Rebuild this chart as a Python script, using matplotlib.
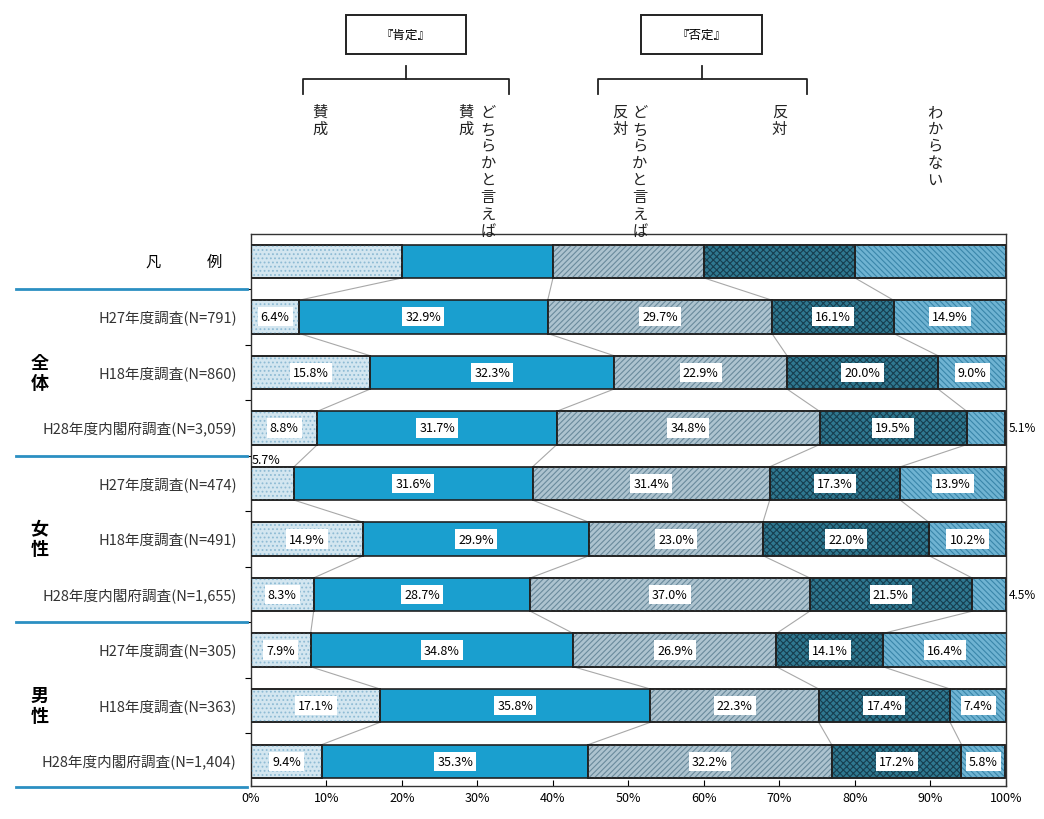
"""
Stacked 100% bar chart: attitudes by survey and gender.
"""

import matplotlib.pyplot as plt
import numpy as np
from matplotlib.patches import Rectangle
from matplotlib.transforms import blended_transform_factory

plt.rcParams["font.family"] = ["Noto Sans CJK JP", "DejaVu Sans"]
plt.rcParams["hatch.linewidth"] = 0.8

row_labels = [
    "H27年度調査(N=791)",
    "H18年度調査(N=860)",
    "H28年度内閣府調査(N=3,059)",
    "H27年度調査(N=474)",
    "H18年度調査(N=491)",
    "H28年度内閣府調査(N=1,655)",
    "H27年度調査(N=305)",
    "H18年度調査(N=363)",
    "H28年度内閣府調査(N=1,404)",
]
group_labels = ["全体", "女性", "男性"]

agree = [6.4, 15.8, 8.8, 5.7, 14.9, 8.3, 7.9, 17.1, 9.4]
rather_agree = [32.9, 32.3, 31.7, 31.6, 29.9, 28.7, 34.8, 35.8, 35.3]
rather_oppose = [29.7, 22.9, 34.8, 31.4, 23.0, 37.0, 26.9, 22.3, 32.2]
oppose = [16.1, 20.0, 19.5, 17.3, 22.0, 21.5, 14.1, 17.4, 17.2]
unknown = [14.9, 9.0, 5.1, 13.9, 10.2, 4.5, 16.4, 7.4, 5.8]

legend_values = [20, 20, 20, 20, 20]

# label placement for tiny segments: (row, segment) -> where
outside_right = {(2, 4), (5, 4)}
outside_above = {(3, 0)}

face_colors = ["#d3e6f0", "#1a9fcf", "#adc3cf", "#2f7890", "#6fb3d2"]
hatch_colors = ["#8ebbd4", None, "#6a8a9c", "#173f50", "#3a86aa"]
hatches = ["....", None, "//////", "xxxxx", "\\\\\\\\\\\\"]

series = np.array([agree, rather_agree, rather_oppose, oppose, unknown]).T
data = np.vstack([legend_values, series])

fig = plt.figure(figsize=(10.44, 8.2), dpi=100)
ax = fig.add_axes([0.2404, 0.040, 0.7232, 0.674])

bar_h = 0.6
ypos = np.arange(data.shape[0])
lefts = np.zeros(data.shape[0])

for j in range(data.shape[1]):
    widths = data[:, j]
    ax.barh(ypos, widths, left=lefts, height=bar_h, color=face_colors[j],
            edgecolor="#222222", linewidth=1.2, zorder=2)
    if hatches[j]:
        ax.barh(ypos, widths, left=lefts, height=bar_h, color="none",
                edgecolor=hatch_colors[j], hatch=hatches[j], linewidth=0,
                zorder=3)
        ax.barh(ypos, widths, left=lefts, height=bar_h, color="none",
                edgecolor="#222222", linewidth=1.2, zorder=4)
    for i in range(1, data.shape[0]):
        v = widths[i]
        r = i - 1
        txt = f"{v:.1f}%"
        if (r, j) in outside_right:
            ax.text(100.4, ypos[i], txt, ha="left", va="center", fontsize=8.5,
                    clip_on=False)
        elif (r, j) in outside_above:
            ax.text(lefts[i] + 0.1, ypos[i] - bar_h / 2 - 0.02, txt,
                    ha="left", va="bottom", fontsize=9)
        else:
            ax.text(lefts[i] + v / 2, ypos[i], txt, ha="center",
                    va="center", fontsize=9, zorder=5,
                    bbox=dict(boxstyle="square,pad=0.25", fc="white",
                              ec="none"))
    lefts = lefts + widths

# connector lines between consecutive bars
cum = np.cumsum(data, axis=1)
for i in range(data.shape[0] - 1):
    for j in range(4):
        ax.plot([cum[i, j], cum[i + 1, j]],
                [ypos[i] + bar_h / 2, ypos[i + 1] - bar_h / 2],
                color="#a8a8a8", linewidth=0.8, zorder=1)

ax.set_xlim(0, 100)
ax.set_ylim(9.45, -0.5)
ax.set_xticks(np.arange(0, 101, 10))
ax.set_xticklabels([f"{t}%" for t in range(0, 101, 10)], fontsize=9)
ax.tick_params(axis="x", direction="in", length=4)
ax.set_yticks(np.arange(0.5, 9.5, 1))
ax.set_yticklabels([])
ax.tick_params(axis="y", direction="out", length=4)
for s in ax.spines.values():
    s.set_color("#333333")
    s.set_linewidth(1.0)

# row labels
for i, lab in enumerate(row_labels):
    ax.text(-0.019, ypos[i + 1], lab, transform=ax.get_yaxis_transform(),
            ha="right", va="center", fontsize=10.5, color="#333333")

ax.text(-0.13, 0, "凡", transform=ax.get_yaxis_transform(), ha="center",
        va="center", fontsize=11)
ax.text(-0.048, 0, "例", transform=ax.get_yaxis_transform(), ha="center",
        va="center", fontsize=11)

fig_y = blended_transform_factory(fig.transFigure, ax.transData)
for g, lab in enumerate(group_labels):
    yc = 2 + g * 3
    ax.text(0.038, yc, "\n".join(lab), transform=fig_y, ha="center",
            va="center", fontsize=13, fontweight="bold", linespacing=1.05,
            clip_on=False)

for yb in [0.5, 3.5, 6.5, 9.47]:
    ax.plot([0.015, 0.237], [yb, yb], transform=fig_y, color="#2b8fc2",
            linewidth=2, clip_on=False)

# header: category names written vertically
hdr = blended_transform_factory(ax.transData, fig.transFigure)
header_cols = [
    (9.1, "賛成"),
    (28.5, "賛成"),
    (31.4, "どちらかと言えば"),
    (48.9, "反対"),
    (51.5, "どちらかと言えば"),
    (70.0, "反対"),
    (90.6, "わからない"),
]
for x, s in header_cols:
    ax.text(x, 0.873, "\n".join(s), transform=hdr, ha="center", va="top",
            fontsize=11, linespacing=1.0, clip_on=False, color="#222222")

# brackets and boxes
for x0, x1, xc, bw, label in [(6.9, 34.2, 20.5, 15.9, "『肯定』"),
                              (46.0, 73.6, 59.7, 16.0, "『否定』")]:
    ax.plot([x0, x0, x1, x1], [0.884, 0.902, 0.902, 0.884], transform=hdr,
            color="#222222", linewidth=1.3, clip_on=False)
    ax.plot([xc, xc], [0.902, 0.918], transform=hdr, color="#222222",
            linewidth=1.3, clip_on=False)
    ax.add_patch(Rectangle((xc - bw / 2, 0.933), bw, 0.048, transform=hdr,
                           fc="white", ec="#222222", lw=1.4, clip_on=False))
    ax.text(xc, 0.957, label, transform=hdr, ha="center", va="center",
            fontsize=9, clip_on=False)

fig.savefig("out.png", dpi=100)
